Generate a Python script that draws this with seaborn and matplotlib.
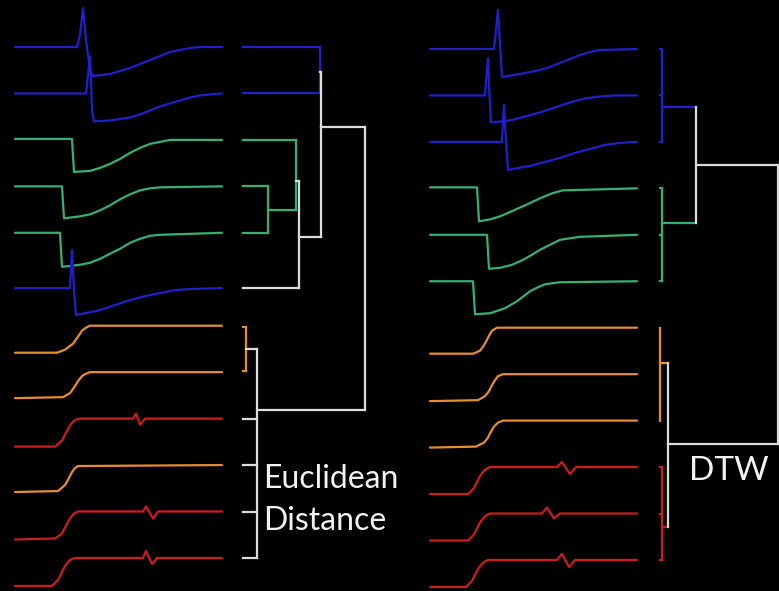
import matplotlib
matplotlib.use("Agg")
import matplotlib.pyplot as plt
import seaborn as sns

sns.set_theme(style="dark")
plt.rcParams['font.family'] = ['Lato', 'DejaVu Sans']

BLUE = "#2020c8"
GREEN = "#34b070"
ORANGE = "#e88c30"
RED = "#cc1c1c"
LINK = "#dcdcdc"

# ------------------------------------------------------------------
# DATA: each series = (sample index, value relative to its final level)
# ------------------------------------------------------------------
# Left panel (Euclidean distance ordering)
ed_blue1_t = [0, 62, 65, 68, 71, 75, 78, 95, 105, 115, 125, 135, 145, 155, 165, 175, 185, 207]
ed_blue1_v = [0, 0, 12, 39, 7, -23, -29, -27, -24, -21, -17, -13, -9, -5, -3, -1, 0, 0]
ed_blue2_t = [0, 71, 73, 75, 76, 77, 79, 95, 115, 125, 135, 145, 155, 165, 175, 185, 195, 207]
ed_blue2_v = [0, 0, 18, 37, 13, -17, -28, -27, -24, -21, -17, -13, -10, -7, -4, -2, -1, 0]
ed_green1_t = [0, 57, 59, 75, 85, 95, 105, 115, 125, 135, 145, 155, 207]
ed_green1_v = [1, 1, -32, -31, -28, -24, -19, -13, -8, -4, -2, 0, 0]
ed_green2_t = [0, 47, 49, 65, 75, 85, 95, 105, 115, 125, 135, 145, 207]
ed_green2_v = [0, 0, -32, -30, -28, -24, -19, -13, -8, -4, -2, -1, 0]
ed_green3_t = [0, 45, 47, 65, 75, 85, 95, 105, 115, 125, 135, 145, 207]
ed_green3_v = [0, 0, -34, -32, -30, -26, -21, -16, -10, -6, -3, -2, 0]
ed_blue3_t = [0, 55, 57, 59, 61, 85, 100, 115, 130, 145, 160, 175, 207]
ed_blue3_v = [0, 0, 38, -2, -27, -22, -17, -12, -8, -5, -2, -1, 0]
ed_orange1_t = [0, 42, 50, 58, 63, 67, 71, 75, 207]
ed_orange1_v = [-27, -27, -24, -18, -11, -5, -2, 0, 0]
ed_orange2_t = [0, 48, 55, 60, 63, 67, 70, 75, 207]
ed_orange2_v = [-26, -25, -21, -14, -9, -4, -2, 0, 0]
ed_red1_t = [0, 40, 47, 51, 55, 58, 61, 65, 118, 121, 125, 130, 207]
ed_red1_v = [-28, -28, -22, -14, -7, -3, -1, 0, 0, 5, -6, 0, 0]
ed_orange3_t = [0, 43, 50, 54, 57, 60, 63, 207]
ed_orange3_v = [-27, -26, -20, -13, -7, -3, -1, 0]
ed_red2_t = [0, 40, 47, 51, 55, 59, 63, 128, 131, 138, 143, 207]
ed_red2_v = [-28, -27, -22, -14, -7, -2, 0, 0, 5, -7, 0, 0]
ed_red3_t = [0, 37, 43, 47, 50, 54, 57, 61, 128, 131, 137, 142, 207]
ed_red3_v = [-28, -28, -22, -14, -8, -3, -1, 0, 0, 7, -6, 0, 0]

# Right panel (DTW ordering)
dtw_blue1_t = [0, 64, 66, 68, 70, 72, 90, 100, 110, 120, 130, 140, 150, 160, 170, 207]
dtw_blue1_v = [0, 0, 19, 39, 4, -28, -25, -23, -21, -18, -14, -10, -6, -3, -1, 0]
dtw_blue2_t = [0, 55, 56, 58, 59, 61, 80, 95, 110, 125, 140, 155, 170, 185, 207]
dtw_blue2_v = [0, 0, 15, 37, 10, -27, -25, -21, -17, -12, -7, -3, -1, 0, 0]
dtw_blue3_t = [0, 72, 73, 74, 76, 78, 100, 115, 130, 145, 160, 175, 190, 207]
dtw_blue3_v = [0, 0, 21, 37, 1, -28, -24, -20, -16, -11, -7, -3, -1, 0]
dtw_green1_t = [0, 47, 49, 60, 70, 77, 86, 95, 110, 122, 133, 207]
dtw_green1_v = [1, 1, -33, -31, -28, -25, -21, -17, -10, -5, -2, 0]
dtw_green2_t = [0, 57, 59, 70, 82, 93, 102, 110, 120, 130, 150, 207]
dtw_green2_v = [0, 0, -34, -33, -30, -25, -20, -15, -10, -5, -2, 0]
dtw_green3_t = [0, 43, 45, 60, 75, 87, 100, 108, 115, 130, 207]
dtw_green3_v = [0, 0, -33, -32, -27, -20, -10, -6, -3, -1, 0]
dtw_orange1_t = [0, 43, 50, 53, 56, 59, 62, 67, 207]
dtw_orange1_v = [-26, -26, -23, -19, -14, -8, -3, 0, 0]
dtw_orange2_t = [0, 48, 55, 59, 62, 65, 68, 73, 207]
dtw_orange2_v = [-27, -26, -22, -17, -11, -6, -2, 0, 0]
dtw_orange3_t = [0, 46, 54, 58, 61, 64, 68, 73, 207]
dtw_orange3_v = [-27, -26, -22, -17, -11, -6, -2, 0, 0]
dtw_red1_t = [0, 38, 44, 47, 50, 53, 56, 60, 127, 132, 140, 146, 207]
dtw_red1_v = [-27, -27, -21, -15, -9, -5, -2, 0, 0, 5, -7, 0, 0]
dtw_red2_t = [0, 38, 44, 47, 50, 53, 56, 60, 112, 117, 124, 130, 207]
dtw_red2_v = [-27, -27, -21, -15, -9, -5, -2, 0, 0, 6, -5, 0, 0]
dtw_red3_t = [0, 36, 42, 45, 48, 51, 54, 58, 127, 132, 139, 145, 207]
dtw_red3_v = [-27, -27, -21, -15, -9, -5, -2, 0, 0, 6, -7, 0, 0]

# Dendrogram leaves: (leaf row, merge distance of its first link, colour)
ed_leaves = [(0, 77, BLUE), (1, 77, BLUE), (2, 53, GREEN), (3, 25, GREEN),
             (4, 25, GREEN), (5.19, 56, LINK), (6.03, 3, ORANGE), (6.98, 3, ORANGE),
             (8, 14, LINK), (9, 14, LINK), (10, 14, LINK), (11, 14, LINK)]
# Dendrogram nodes: (distance, row_lo, row_hi, node row, parent distance, colour, stem colour)
ed_nodes = [(77, 0, 1, 0.54, 78, BLUE, LINK),
            (25, 3, 4, 3.5, 53, GREEN, GREEN),
            (53, 2, 3.5, 2.88, 56, GREEN, LINK),
            (56, 2.88, 5.19, 4.09, 78, LINK, LINK),
            (78, 0.54, 4.09, 1.72, 122, LINK, LINK),
            (3, 6.03, 6.98, 6.5, 14, ORANGE, LINK),
            (14, 6.5, 11, 7.81, 122, LINK, LINK),
            (122, 1.72, 7.81, None, None, LINK, LINK)]

dtw_leaves = [(0, 2, BLUE), (1, 2, BLUE), (2, 2, BLUE),
              (3, 2, GREEN), (4, 2, GREEN), (5, 2, GREEN),
              (9, 2, RED), (10, 2, RED), (11, 2, RED)]
dtw_nodes = [(2, 0, 2, 1.25, 36, BLUE, BLUE),
             (2, 3, 5, 3.75, 36, GREEN, GREEN),
             (36, 1.25, 3.75, 2.5, 118, LINK, LINK),
             (0, 6, 8, 6.76, 8, ORANGE, ORANGE),
             (2, 9, 11, 10.3, 8, RED, RED),
             (8, 6.76, 10.3, 8.5, 118, LINK, LINK),
             (118, 2.5, 8.5, None, None, LINK, LINK)]

ed_series = [(ed_blue1_t, ed_blue1_v, BLUE), (ed_blue2_t, ed_blue2_v, BLUE),
             (ed_green1_t, ed_green1_v, GREEN), (ed_green2_t, ed_green2_v, GREEN),
             (ed_green3_t, ed_green3_v, GREEN), (ed_blue3_t, ed_blue3_v, BLUE),
             (ed_orange1_t, ed_orange1_v, ORANGE), (ed_orange2_t, ed_orange2_v, ORANGE),
             (ed_red1_t, ed_red1_v, RED), (ed_orange3_t, ed_orange3_v, ORANGE),
             (ed_red2_t, ed_red2_v, RED), (ed_red3_t, ed_red3_v, RED)]
ed_rows = [0, 1, 2, 3, 4, 5.19, 6, 7, 8, 9, 10, 11]

dtw_series = [(dtw_blue1_t, dtw_blue1_v, BLUE), (dtw_blue2_t, dtw_blue2_v, BLUE),
              (dtw_blue3_t, dtw_blue3_v, BLUE), (dtw_green1_t, dtw_green1_v, GREEN),
              (dtw_green2_t, dtw_green2_v, GREEN), (dtw_green3_t, dtw_green3_v, GREEN),
              (dtw_orange1_t, dtw_orange1_v, ORANGE), (dtw_orange2_t, dtw_orange2_v, ORANGE),
              (dtw_orange3_t, dtw_orange3_v, ORANGE), (dtw_red1_t, dtw_red1_v, RED),
              (dtw_red2_t, dtw_red2_v, RED), (dtw_red3_t, dtw_red3_v, RED)]
dtw_rows = list(range(12))

# ------------------------------------------------------------------
# LAYOUT (pixels of the 779 x 591 canvas)
# ------------------------------------------------------------------
W, H = 779, 591
SPAN, AMP = 207, 30
ROW_STEP = 46.45

fig = plt.figure(figsize=(W / 100, H / 100), dpi=100, facecolor="black")


def draw_panel(series, rows, x0, y0):
    for (t, v, c), r in zip(series, rows):
        yc = y0 + r * ROW_STEP
        ax = fig.add_axes([x0 / W, (H - yc - AMP) / H, SPAN / W, 2 * AMP / H])
        ax.set_xlim(0, SPAN)
        ax.set_ylim(-AMP, AMP)
        ax.axis("off")
        ax.patch.set_alpha(0)
        sns.lineplot(x=t, y=v, ax=ax, color=c, linewidth=1.6)
        for ln in ax.lines:
            ln.set_clip_on(False)
            ln.set_solid_joinstyle("round")


def draw_dendro(leaves, nodes, x0, width, y0):
    ax = fig.add_axes([x0 / W, 0, width / W, 1])
    ax.set_xlim(0, width)
    ax.set_ylim((H - y0) / ROW_STEP, -y0 / ROW_STEP)
    ax.axis("off")
    ax.patch.set_alpha(0)
    kw = dict(linewidth=1.6, solid_capstyle="projecting", clip_on=False)
    for r, d, c in leaves:
        ax.plot([0, d], [r, r], color=c, **kw)
    for d, lo, hi, nr, pd, c, sc in nodes:
        ax.plot([d, d], [lo, hi], color=c, **kw)
        if nr is not None:
            ax.plot([d, pd], [nr, nr], color=sc, **kw)


draw_panel(ed_series, ed_rows, 15, 47)
draw_panel(dtw_series, dtw_rows, 430, 49)
draw_dendro(ed_leaves, ed_nodes, 243, 130, 47)
draw_dendro(dtw_leaves, dtw_nodes, 660, 119, 49)

fig.text(263 / W, 1 - 488 / H, "Euclidean", color="#f2f2f2", fontsize=23,
         ha="left", va="baseline")
fig.text(263 / W, 1 - 530 / H, "Distance", color="#f2f2f2", fontsize=23,
         ha="left", va="baseline")
fig.text(689 / W, 1 - 480 / H, "DTW", color="#f2f2f2", fontsize=24,
         ha="left", va="baseline")

fig.savefig("out.png", dpi=100, facecolor="black")
